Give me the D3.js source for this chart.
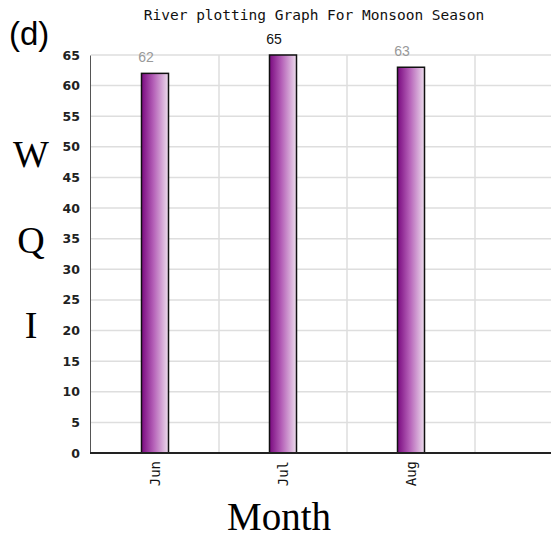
<!DOCTYPE html>
<html><head><meta charset="utf-8">
<script src="https://cdn.jsdelivr.net/npm/d3@7"></script>
<style>body{margin:0;background:#fff}svg{display:block}</style>
</head><body>
<script>
const months = ["Jun","Jul","Aug"];
const wqi = [62,65,63];
const yTicks = [0,5,10,15,20,25,30,35,40,45,50,55,60,65];
const title = "River plotting Graph For Monsoon Season";

(function(){
const W = 551, H = 538;
const svg = d3.select("body").append("svg").attr("width",W).attr("height",H);
const defs = svg.append("defs");
const grad = defs.append("linearGradient").attr("id","bg").attr("x1","0").attr("x2","1").attr("y1","0").attr("y2","0");
grad.append("stop").attr("offset","0").attr("stop-color","#7a0a80");
grad.append("stop").attr("offset","0.45").attr("stop-color","#b561b8");
grad.append("stop").attr("offset","1").attr("stop-color","#ecdcec");

const mLeft = 91, mBottom = 453, mTop = 55;
const x = d3.scaleBand().domain(months).range([mLeft, mLeft + 3*128]).paddingInner(0).paddingOuter(0);
const y = d3.scaleLinear().domain([0,65]).range([mBottom, mTop]);
const plotRight = mLeft + 4*x.step();

// grid
const g = svg.append("g");
g.selectAll("line.h").data(yTicks.filter(d=>d>0)).enter().append("line")
  .attr("x1",mLeft).attr("x2",plotRight).attr("y1",d=>y(d)).attr("y2",d=>y(d))
  .attr("stroke","#dedede").attr("stroke-width",1.5);
g.selectAll("line.v").data([1,2,3,4]).enter().append("line")
  .attr("x1",d=>mLeft+d*x.step()).attr("x2",d=>mLeft+d*x.step()).attr("y1",mTop).attr("y2",mBottom)
  .attr("stroke","#dedede").attr("stroke-width",1.5);

// y axis
const ya = svg.append("g").attr("transform",`translate(${mLeft-1},0)`)
  .call(d3.axisLeft(y).tickValues(yTicks).tickSize(0).tickPadding(10));
ya.select(".domain").attr("stroke","#555").attr("stroke-width",1);
ya.selectAll("text").attr("font-family","DejaVu Sans").attr("font-size",12.5).attr("fill","#222").attr("font-weight","bold");

// bars
const bw = 28;
svg.selectAll("rect.bar").data(months).enter().append("rect")
  .attr("x",(d)=>x(d)+x.bandwidth()/2-bw/2+0.5)
  .attr("y",(d,i)=>y(wqi[i]))
  .attr("width",bw-1).attr("height",(d,i)=>mBottom-y(wqi[i]))
  .attr("fill","url(#bg)").attr("stroke","#111").attr("stroke-width",1.5);

// x axis line
svg.append("line").attr("x1",mLeft-1).attr("x2",plotRight).attr("y1",mBottom).attr("y2",mBottom)
  .attr("stroke","#222").attr("stroke-width",2);

// month labels
svg.selectAll("text.m").data(months).enter().append("text")
  .attr("transform",d=>`translate(${x(d)+x.bandwidth()/2+5},${461}) rotate(-90)`)
  .attr("text-anchor","end")
  .attr("font-family","DejaVu Sans Mono").attr("font-size",14).attr("fill","#111")
  .text(d=>d);

// value labels
const maxV = d3.max(wqi);
svg.selectAll("text.v").data(months).enter().append("text")
  .attr("x",d=>x(d)+x.bandwidth()/2-9)
  .attr("y",(d,i)=>y(wqi[i])-11)
  .attr("text-anchor","middle")
  .attr("font-family","Liberation Sans").attr("font-size",14)
  .attr("fill",(d,i)=>wqi[i]===maxV ? "#111" : "#999")
  .text((d,i)=>wqi[i]);

// title
svg.append("text").attr("x",314).attr("y",20).attr("text-anchor","middle")
  .attr("font-family","DejaVu Sans Mono").attr("font-size",14.5).attr("fill","#111")
  .text(title);

// (d)
svg.append("text").attr("x",9).attr("y",45).attr("font-family","Liberation Sans").attr("font-size",33).attr("fill","#000").text("(d)");

// WQI letters
const letters = [["W",167],["Q",253],["I",338]];
svg.selectAll("text.l").data(letters).enter().append("text")
  .attr("x",31).attr("y",d=>d[1]).attr("text-anchor","middle")
  .attr("font-family","Liberation Serif").attr("font-size",38).attr("fill","#000")
  .text(d=>d[0]);

// Month title
svg.append("text").attr("x",279).attr("y",530).attr("text-anchor","middle")
  .attr("font-family","Liberation Serif").attr("font-size",39).attr("fill","#000").text("Month");
})();
</script>
</body></html>
